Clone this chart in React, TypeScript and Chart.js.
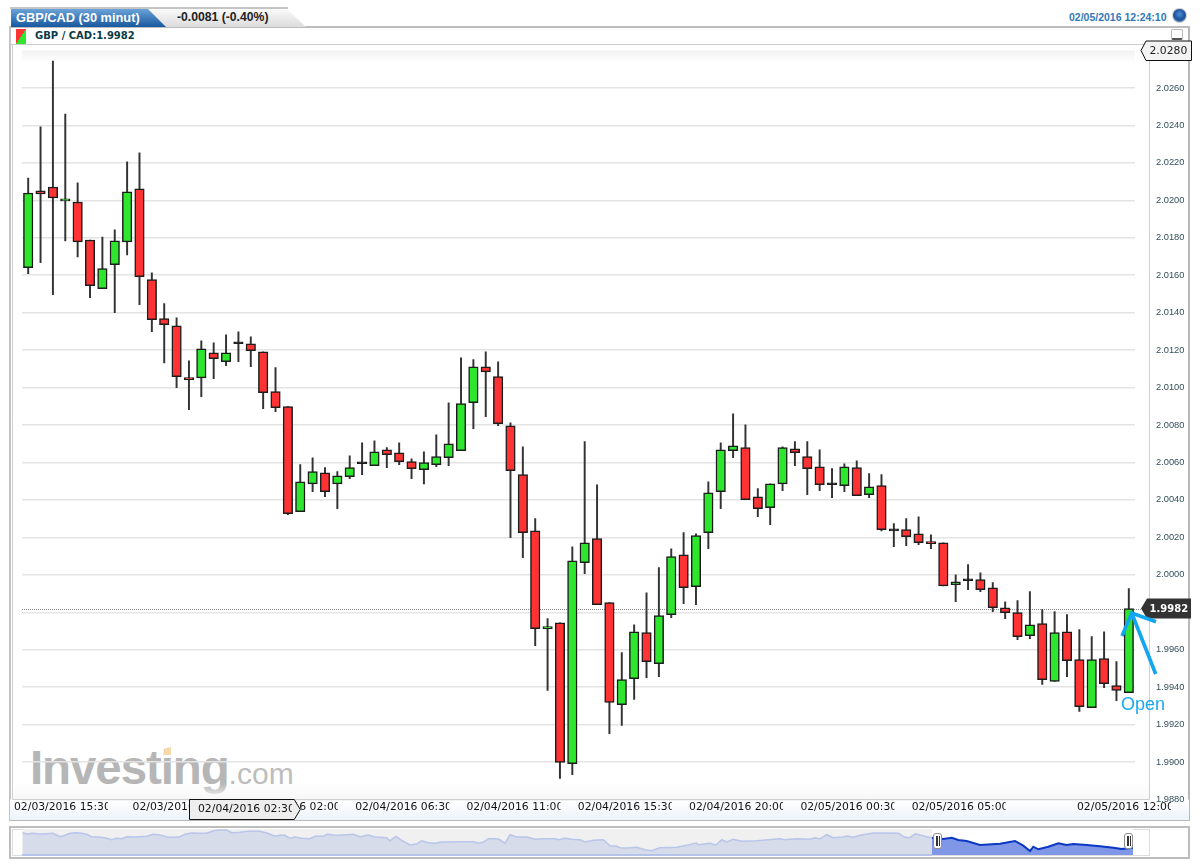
import React, { useEffect, useRef } from "react";
import { Chart, registerables } from "chart.js";

Chart.register(...registerables);

const day1Times = ["15:30","16:00","16:30","17:00","17:30","18:00","18:30","19:00","19:30","20:00","20:30","21:00","21:30","22:00","22:30","23:00","23:30"];
const day2Times = ["00:00","00:30","01:00","01:30","02:00","02:30","03:00","03:30","04:00","04:30","05:00","05:30","06:00","06:30","07:00","07:30","08:00","08:30","09:00","09:30","10:00","10:30","11:00","11:30","12:00","12:30","13:00","13:30","14:00","14:30","15:00","15:30","16:00","16:30","17:00","17:30","18:00","18:30","19:00","19:30","20:00","20:30","21:00","21:30","22:00","22:30","23:00","23:30"];
const day3Times = ["00:00","00:30","01:00","01:30","02:00","02:30","03:00","03:30","04:00","04:30","05:00","05:30","06:00","06:30","07:00","07:30","08:00","08:30","09:00","09:30","10:00","10:30","11:00","11:30","12:00"];
const categories = [
  ...day1Times.map((t) => "02/03/2016 " + t),
  ...day2Times.map((t) => "02/04/2016 " + t),
  ...day3Times.map((t) => "02/05/2016 " + t),
];
const xTickIndexes = [0, 12, 21, 30, 39, 48, 57, 66, 75, 89];
const crosshairIndex = 22;

const opens = [
  2.0164,2.0205,2.02071,2.01997,2.01991,2.01788,2.01528,2.01656,2.01778,2.02061,
  2.01576,2.01368,2.0133,2.01052,2.01052,2.01186,2.01138,2.01234,2.01234,2.01191,
  2.00978,2.00898,2.00337,2.00486,2.00545,2.00486,2.00524,2.00593,2.00583,2.00668,
  2.00652,2.00604,2.00561,2.00588,2.00625,2.00663,2.00919,2.01111,2.01058,2.00796,
  2.00535,2.00235,1.99712,1.99744,1.98992,2.00065,2.00193,1.99851,1.99307,1.99445,
  1.99691,1.99525,1.99787,2.00107,1.99936,2.00225,2.00444,2.00663,2.00679,2.00417,
  2.00358,2.00486,2.00673,2.00631,2.00577,2.00481,2.00476,2.00572,2.00428,2.00476,
  2.00235,2.00241,2.00219,2.00177,2.00171,1.99947,1.99968,1.99974,1.99931,1.99824,
  1.99798,1.99675,1.99739,1.9943,1.99696,1.99547,1.99291,1.99552,1.99408,1.99371,
];
const highs = [
  2.02119,2.02392,2.02744,2.02461,2.02093,2.01788,2.01804,2.01842,2.02205,2.02253,
  2.01613,2.01448,2.01373,2.01143,2.0125,2.01239,2.01282,2.01298,2.01271,2.01191,
  2.01106,2.00898,2.00588,2.00625,2.00572,2.00551,2.00636,2.00705,2.00716,2.00679,
  2.00705,2.0062,2.00657,2.00748,2.00919,2.01159,2.01149,2.01191,2.01138,2.00812,
  2.00684,2.003,1.99766,1.99744,2.0015,2.00711,2.00481,1.99851,1.99584,1.99733,
  1.99904,2.00038,2.00139,2.00225,2.00219,2.00497,2.00705,2.0086,2.00801,2.0046,
  2.00486,2.00684,2.00711,2.00711,2.00668,2.00567,2.00593,2.00609,2.0054,2.00535,
  2.00273,2.003,2.0031,2.00214,2.00171,2.0,2.00054,2.00011,1.99958,1.99856,
  1.99862,1.9991,1.99814,1.99803,1.99787,1.99707,1.9967,1.99696,1.99536,1.99926,
];
const lows = [
  2.01608,2.01667,2.01496,2.01783,2.01698,2.0148,2.01528,2.014,2.01708,2.01442,
  2.01298,2.01132,2.00999,2.00882,2.00951,2.01047,2.01117,2.01138,2.01111,2.00887,
  2.00871,2.00321,2.00337,2.00444,2.00417,2.00353,2.00513,2.00535,2.00583,2.00572,
  2.00588,2.00513,2.00486,2.00577,2.00583,2.00663,2.0078,2.00844,2.00796,2.00198,
  2.00091,1.99621,1.99382,1.98912,1.98933,2.00006,1.9984,1.99152,1.99195,1.99334,
  1.99451,1.99456,1.99771,1.99846,1.9984,2.00139,2.00353,2.00625,2.00401,2.0031,
  2.00268,2.00449,2.00583,2.00428,2.00449,2.00412,2.00444,2.00422,2.00412,2.00235,
  2.0015,2.00155,2.00161,2.00139,1.99941,1.99856,1.9992,1.9991,1.99803,1.99766,
  1.99654,1.99659,1.99414,1.9943,1.99456,1.9927,1.99291,1.99397,1.99328,1.99371,
];
const closes = [
  2.02039,2.02034,2.02013,2.02007,2.01778,2.01544,2.01635,2.01783,2.02045,2.01592,
  2.01362,2.01336,2.01058,2.01042,2.01207,2.01154,2.01186,2.01234,2.01197,2.00972,
  2.00892,2.00326,2.00497,2.00551,2.00444,2.00529,2.00572,2.00593,2.00657,2.00641,
  2.00604,2.00567,2.00599,2.00631,2.007,2.00914,2.01111,2.01084,2.00807,2.00556,
  2.00225,1.99712,1.99723,1.98998,2.00075,2.00171,1.9984,1.99318,1.9944,1.99696,
  1.99536,1.99782,2.00097,1.99931,2.00209,2.00438,2.00668,2.00689,2.00401,2.00353,
  2.00486,2.00679,2.00652,2.00567,2.00481,2.00481,2.00577,2.00422,2.0047,2.00241,
  2.00235,2.00203,2.00171,2.00166,1.99941,1.99963,1.99968,1.9992,1.99824,1.99798,
  1.9967,1.99733,1.9944,1.99691,1.99542,1.99296,1.99547,1.99419,1.99382,1.99819,
];

const lastPrice = 1.9982;
const axisMin = 1.988;
const axisMax = 2.028;
const axisStep = 0.002;

// overview strip (height above its floor, arbitrary units)
const historyX = [0.7,4.7,11,18,24.7,31,38,43,48,54.7,59.7,64.7,69.7,76.3,83,89.7,94.7,99.7,104.7,111.3,118,124.7,131.3,138,146.3,153,158,163,169.7,176.3,184.7,191.3,198,204.7,209.7,218,226.3,238,244.7,253,258,263,268,273,279.7,288,293,301.3,304.7,311.3,318,331.3,338,346.3,353,364.7,368,374,379.7,388,394.7,399.7,406.3,413,419.7,434.7,451.3,456.3,461.3,466.3,474.7,478,483,488,494.7,504.7,513,521.3,533,536.3,543,549.7,558,563,571.3,581.3,588,594,598,604.7,614.7,623,629.7,638,654.7,666.3,674,676.3,688,694,699.7,704.7,711.3,719.7,734.7,758,763,774.7,788,793,798,804.7,811.3,821.3,824.7,831.3,838,851.3,864.7,876.3,883,888,893,898,904.7,910];
const historyY = [22.3,21,21.7,21,21.3,21.7,18.3,19.7,21.7,22.3,21.7,20.7,18.3,18,17.3,15.3,16.7,16.3,18.3,18,18.3,18.7,20.7,20,17.7,17.7,18.3,20.7,22,21.7,21.7,24.3,25,25,22.3,22.7,23.7,23.7,22,18.7,19.7,19.7,16.7,18,16.7,16.3,18.7,18.7,20.7,20,19.7,20.7,18.3,20,18,17.3,14.3,18.7,14.7,10,11,14.3,12.3,11.7,13,13.3,13.3,11.7,12.7,16.3,16.3,15.3,11.7,20.3,18,18,15.7,16.3,16.3,15.3,16.7,15.7,15.3,13,14.7,15.3,9.3,9,7.3,7,7.7,5.3,4.3,7.3,7.7,10,12,10.3,11.7,10,15.3,13,15.7,13.7,14.3,16.3,15.3,16.3,15.7,17.3,16,20.3,17.3,18,19,17.7,19.7,22,22,21.7,17.7,17.3,21.3,20,18.3,17.3];
const selectedX = [910,911.3,921.3,929.7,936.3,944.7,958,978,993,1001.3,1008,1011.3,1016.3,1026.3,1036.3,1044.7,1051.3,1064.7,1078,1091.3,1099.7,1111];
const selectedY = [17.3,16.7,16,17.3,15,14,10,11.3,14,9.3,4,8.3,5.7,8.3,11.7,10,11,10,8.7,7.3,6,7.3];

const RED = "#ff3333";
const GREEN = "#2ee62e";
const SANS = '"Liberation Sans", Arial, sans-serif';
const WIDE = '"DejaVu Sans", Verdana, sans-serif';

const panelPlugin = {
  id: "panel",
  beforeDraw(chart: any) {
    const { ctx, chartArea: a } = chart;
    ctx.save();
    let g = ctx.createLinearGradient(0, a.top, 0, a.top + 12);
    g.addColorStop(0, "#f2f2f2");
    g.addColorStop(1, "#ffffff");
    ctx.fillStyle = g;
    ctx.fillRect(a.left, a.top, a.right - a.left, 12);
    g = ctx.createLinearGradient(0, a.bottom - 16, 0, a.bottom);
    g.addColorStop(0, "rgba(247,247,247,0)");
    g.addColorStop(1, "rgba(247,247,247,1)");
    ctx.fillStyle = g;
    ctx.fillRect(13, a.bottom - 16, 1136, 16);
    g = ctx.createLinearGradient(0, a.bottom, 0, 820);
    g.addColorStop(0, "#ffffff");
    g.addColorStop(1, "#edf3fb");
    ctx.fillStyle = g;
    ctx.fillRect(10, a.bottom, 1179, 820 - a.bottom);
    ctx.restore();
  },
  beforeDatasetsDraw(chart: any) {
    const { ctx, chartArea: a, scales } = chart;
    const y = Math.round(scales.y.getPixelForValue(lastPrice)) + 0.5;
    ctx.save();
    ctx.strokeStyle = "#8a8a8a";
    ctx.lineWidth = 1;
    ctx.setLineDash([1, 1]);
    ctx.beginPath();
    ctx.moveTo(a.left, y);
    ctx.lineTo(1141, y);
    ctx.stroke();
    ctx.setLineDash([]);
    ctx.strokeStyle = "#cfcfcf";
    ctx.beginPath();
    ctx.moveTo(1149.5, 44);
    ctx.lineTo(1149.5, a.bottom);
    ctx.moveTo(12.5, 44);
    ctx.lineTo(12.5, a.bottom);
    ctx.moveTo(12.5, a.bottom);
    ctx.lineTo(1149.5, a.bottom);
    ctx.stroke();
    ctx.restore();
  },
  afterDraw(chart: any) {
    const { ctx, chartArea: a, scales } = chart;
    ctx.save();
    ctx.textBaseline = "middle";
    ctx.textAlign = "left";
    ctx.font = `10.8px ${WIDE}`;
    ctx.fillStyle = "#111111";
    const textY = 807.5;
    xTickIndexes.forEach((i) => {
      const px = scales.x.getPixelForValue(i);
      const left = Math.min(1077, Math.max(14, px - 44));
      ctx.save();
      ctx.beginPath();
      ctx.rect(left, a.bottom, 94, 820 - a.bottom);
      ctx.clip();
      ctx.fillText(categories[i], left, textY);
      ctx.restore();
    });
    // crosshair date tag
    const cx = scales.x.getPixelForValue(crosshairIndex);
    ctx.beginPath();
    ctx.moveTo(189.5, 799.5);
    ctx.lineTo(cx - 6, 799.5);
    ctx.lineTo(cx, 809.5);
    ctx.lineTo(cx - 6, 819.5);
    ctx.lineTo(189.5, 819.5);
    ctx.closePath();
    ctx.fillStyle = "#eeeeee";
    ctx.fill();
    ctx.strokeStyle = "#111111";
    ctx.lineWidth = 1;
    ctx.stroke();
    ctx.save();
    ctx.beginPath();
    ctx.rect(198, 800, 94, 19);
    ctx.clip();
    ctx.fillStyle = "#111111";
    ctx.fillText(categories[crosshairIndex], 198, 809);
    ctx.restore();
    // top value tag
    const ty = scales.y.getPixelForValue(axisMax);
    ctx.beginPath();
    ctx.moveTo(1141, ty);
    ctx.lineTo(1146, ty - 9.5);
    ctx.lineTo(1191.5, ty - 9.5);
    ctx.lineTo(1191.5, ty + 10);
    ctx.lineTo(1146, ty + 10);
    ctx.closePath();
    ctx.fillStyle = "#f3f3f3";
    ctx.fill();
    ctx.strokeStyle = "#111111";
    ctx.stroke();
    ctx.fillStyle = "#222222";
    ctx.font = `10.8px ${WIDE}`;
    ctx.fillText(axisMax.toFixed(4), 1149.5, ty + 0.5);
    // last price tag
    const ly = scales.y.getPixelForValue(lastPrice);
    ctx.beginPath();
    ctx.moveTo(1141, ly);
    ctx.lineTo(1147, ly - 10);
    ctx.lineTo(1191, ly - 10);
    ctx.lineTo(1191, ly + 10);
    ctx.lineTo(1147, ly + 10);
    ctx.closePath();
    ctx.fillStyle = "#333333";
    ctx.fill();
    ctx.fillStyle = "#ffffff";
    ctx.font = `bold 10px ${WIDE}`;
    ctx.fillText(lastPrice.toFixed(4), 1149.5, ly + 0.5);
    ctx.restore();
  },
};

function box(s: React.CSSProperties): React.CSSProperties {
  return { position: "absolute", boxSizing: "border-box", ...s };
}

export default function App() {
  const mainRef = useRef<HTMLCanvasElement>(null);
  const navRef = useRef<HTMLCanvasElement>(null);

  useEffect(() => {
    const bodyColors = closes.map((c, i) =>
      c === opens[i] ? "#111111" : c > opens[i] ? GREEN : RED
    );
    const main = new Chart(mainRef.current as HTMLCanvasElement, {
      type: "bar",
      data: {
        labels: categories,
        datasets: [
          {
            label: "Body",
            data: opens.map((o, i) => [o, closes[i]]),
            backgroundColor: bodyColors,
            borderColor: "#1c1c1c",
            borderWidth: 1.5,
            borderSkipped: false,
            barThickness: 9.5,
            minBarLength: 2,
            grouped: false,
            order: 1,
          },
          {
            label: "Range",
            data: lows.map((l, i) => [l, highs[i]]),
            backgroundColor: "#333333",
            borderWidth: 0,
            barThickness: 1.3,
            grouped: false,
            order: 2,
          },
        ] as any,
      },
      options: {
        responsive: false,
        animation: false,
        events: [],
        layout: { padding: { top: 50.5, bottom: 68.5, left: 22, right: 0 } },
        plugins: { legend: { display: false }, tooltip: { enabled: false } },
        scales: {
          x: {
            type: "category",
            display: false,
            offset: true,
            grid: { display: false },
            border: { display: false },
            ticks: { display: false },
          },
          y: {
            position: "right",
            min: axisMin,
            max: axisMax,
            border: { display: false },
            grid: {
              drawTicks: false,
              lineWidth: 1.5,
              color: (c: any) => (c.tick && c.tick.value >= axisMax - 1e-6 ? "rgba(0,0,0,0)" : "#e4e4e4"),
            },
            ticks: {
              stepSize: axisStep,
              padding: 21,
              color: "#33505a",
              font: { family: '"Liberation Sans", Arial, sans-serif', size: 9.3 },
              callback: (v: any) => Number(v).toFixed(4),
            },
            afterFit: (s: any) => {
              s.width = 65;
              s.paddingTop = 0;
              s.paddingBottom = 0;
            },
          },
        },
      } as any,
      plugins: [panelPlugin],
    });

    const nav = new Chart(navRef.current as HTMLCanvasElement, {
      type: "line",
      data: {
        datasets: [
          {
            data: historyX.map((x, i) => ({ x, y: historyY[i] })),
            borderColor: "#b9c5ea",
            borderWidth: 1.5,
            backgroundColor: "#d7dcea",
            fill: "origin",
            pointRadius: 0,
          },
          {
            data: selectedX.map((x, i) => ({ x, y: selectedY[i] })),
            borderColor: "#0a37c4",
            borderWidth: 2,
            backgroundColor: "#7f97e6",
            fill: "origin",
            pointRadius: 0,
          },
        ],
      },
      options: {
        responsive: false,
        animation: false,
        events: [],
        plugins: { legend: { display: false }, tooltip: { enabled: false } },
        scales: {
          x: { type: "linear", display: false, min: 0, max: 1111 },
          y: { type: "linear", display: false, min: 0, max: 26 },
        },
      } as any,
    });

    return () => {
      main.destroy();
      nav.destroy();
    };
  }, []);

  return (
    <div style={{ position: "absolute", left: 0, top: 0, width: 1200, height: 868, overflow: "hidden", background: "#ffffff" }}>
      {/* main frame */}
      <div style={box({ left: 9, top: 26, width: 1181, height: 795, borderLeft: "2px solid #c4c4c4", borderRight: "2px solid #b8b8b8", borderBottom: "2px solid #b8b8b8", borderTop: "2px solid #bdbdbd" })} />
      <div style={box({ left: 11, top: 44, width: 1178, height: 1, background: "#cccccc" })} />

      {/* tabs */}
      <div style={box({ left: 10, top: 7, width: 278, height: 2, background: "#c4c4c4" })} />
      <div style={box({ left: 11, top: 9, width: 295, height: 18, background: "linear-gradient(#fafafa,#dcdcdc)", clipPath: "polygon(0 0, 276px 0, 295px 100%, 0 100%)" })} />
      <div style={box({ left: 11, top: 9, width: 155, height: 18, background: "linear-gradient(#6ba3d9,#17589f)", clipPath: "polygon(0 0, 137px 0, 155px 100%, 0 100%)" })} />
      <div style={box({ left: 16, top: 9, height: 18, lineHeight: "17px", color: "#ffffff", font: `bold 12.8px/17px ${SANS}`, whiteSpace: "nowrap" })}>GBP/CAD (30 minut)</div>
      <div style={box({ left: 177, top: 9, height: 18, lineHeight: "17px", color: "#222222", font: `bold 12.2px/17px ${SANS}`, whiteSpace: "nowrap" })}>-0.0081 (-0.40%)</div>

      {/* date and status */}
      <div style={box({ left: 1069, top: 10, height: 14, color: "#3478b8", font: `bold 10.5px/14px ${SANS}`, whiteSpace: "nowrap" })}>02/05/2016 12:24:10</div>
      <div style={box({ left: 1172, top: 8, width: 15, height: 15, borderRadius: "50%", border: "1px solid #c8c8c8", background: "radial-gradient(circle at 50% 40%, #4f8fd8 0%, #1b4f9a 55%, #a9bcd3 100%)" })} />

      {/* legend strip */}
      <div style={box({ left: 16, top: 29, width: 10, height: 15, background: "linear-gradient(to bottom right, #ff3333 50%, #2ee62e 50%)" })} />
      <div style={box({ left: 35, top: 29, height: 14, color: "#0b3b45", font: `bold 10px/14px ${WIDE}`, whiteSpace: "nowrap" })}>GBP / CAD:1.9982</div>
      <div style={box({ left: 1171, top: 29, width: 12, height: 11, border: "1px solid #bbbbbb", borderBottom: "2px solid #555555", borderRadius: 2, background: "#ffffff" })} />

      {/* watermark */}
      <div style={box({ left: 30, top: 740, height: 56, whiteSpace: "nowrap", color: "#b6b6b6" })}>
        <span style={{ font: `bold 47.5px/56px ${SANS}`, letterSpacing: -1.1 }}>Investing</span>
        <span style={{ font: `30px/56px ${SANS}`, color: "#bdbdbd" }}>.com</span>
      </div>
      <div style={box({ left: 163, top: 747, width: 8, height: 8, background: "#f6d9a8", clipPath: "polygon(25% 20%, 100% 0, 100% 100%, 0 100%)" })} />

      <canvas ref={mainRef} width={1200} height={868} style={{ position: "absolute", left: 0, top: 0, display: "block" }} />

      {/* overview strip */}
      <div style={box({ left: 9, top: 826, width: 1181, height: 33, border: "2px solid #bdbdbd" })} />
      <div style={box({ left: 12, top: 829, width: 1138, height: 27, border: "1px solid #dddddd" })} />
      <canvas
        ref={navRef}
        width={1111}
        height={26}
        style={{ position: "absolute", left: 22, top: 829, display: "block", background: "linear-gradient(to right, #f0f0f0 910px, #ffffff 910px)" }}
      />
      <div style={box({ left: 22, top: 854, width: 910, height: 1.5, background: "#b5c3ea" })} />
      <div style={box({ left: 933, top: 833, width: 9, height: 16, background: "#ffffff", border: "1px solid #8d8d8d", borderRadius: 3 })}>
        <div style={box({ left: 2, top: 2, width: 1.5, height: 10, background: "#333" })} />
        <div style={box({ left: 4.5, top: 2, width: 1.5, height: 10, background: "#333" })} />
      </div>
      <div style={box({ left: 1124, top: 833, width: 9, height: 16, background: "#ffffff", border: "1px solid #8d8d8d", borderRadius: 3 })}>
        <div style={box({ left: 2, top: 2, width: 1.5, height: 10, background: "#333" })} />
        <div style={box({ left: 4.5, top: 2, width: 1.5, height: 10, background: "#333" })} />
      </div>

      {/* hand-drawn note */}
      <svg width={1200} height={868} style={{ position: "absolute", left: 0, top: 0, pointerEvents: "none" }}>
        <path d="M1155.7 674 L1131.7 613 M1122 636 L1131.7 613 L1156 621.7" fill="none" stroke="#12a6ee" strokeWidth={3.6} />
      </svg>
      <div style={box({ left: 1121, top: 693, height: 22, color: "#1aa9ee", font: `18px/22px ${SANS}`, whiteSpace: "nowrap" })}>Open</div>
    </div>
  );
}
